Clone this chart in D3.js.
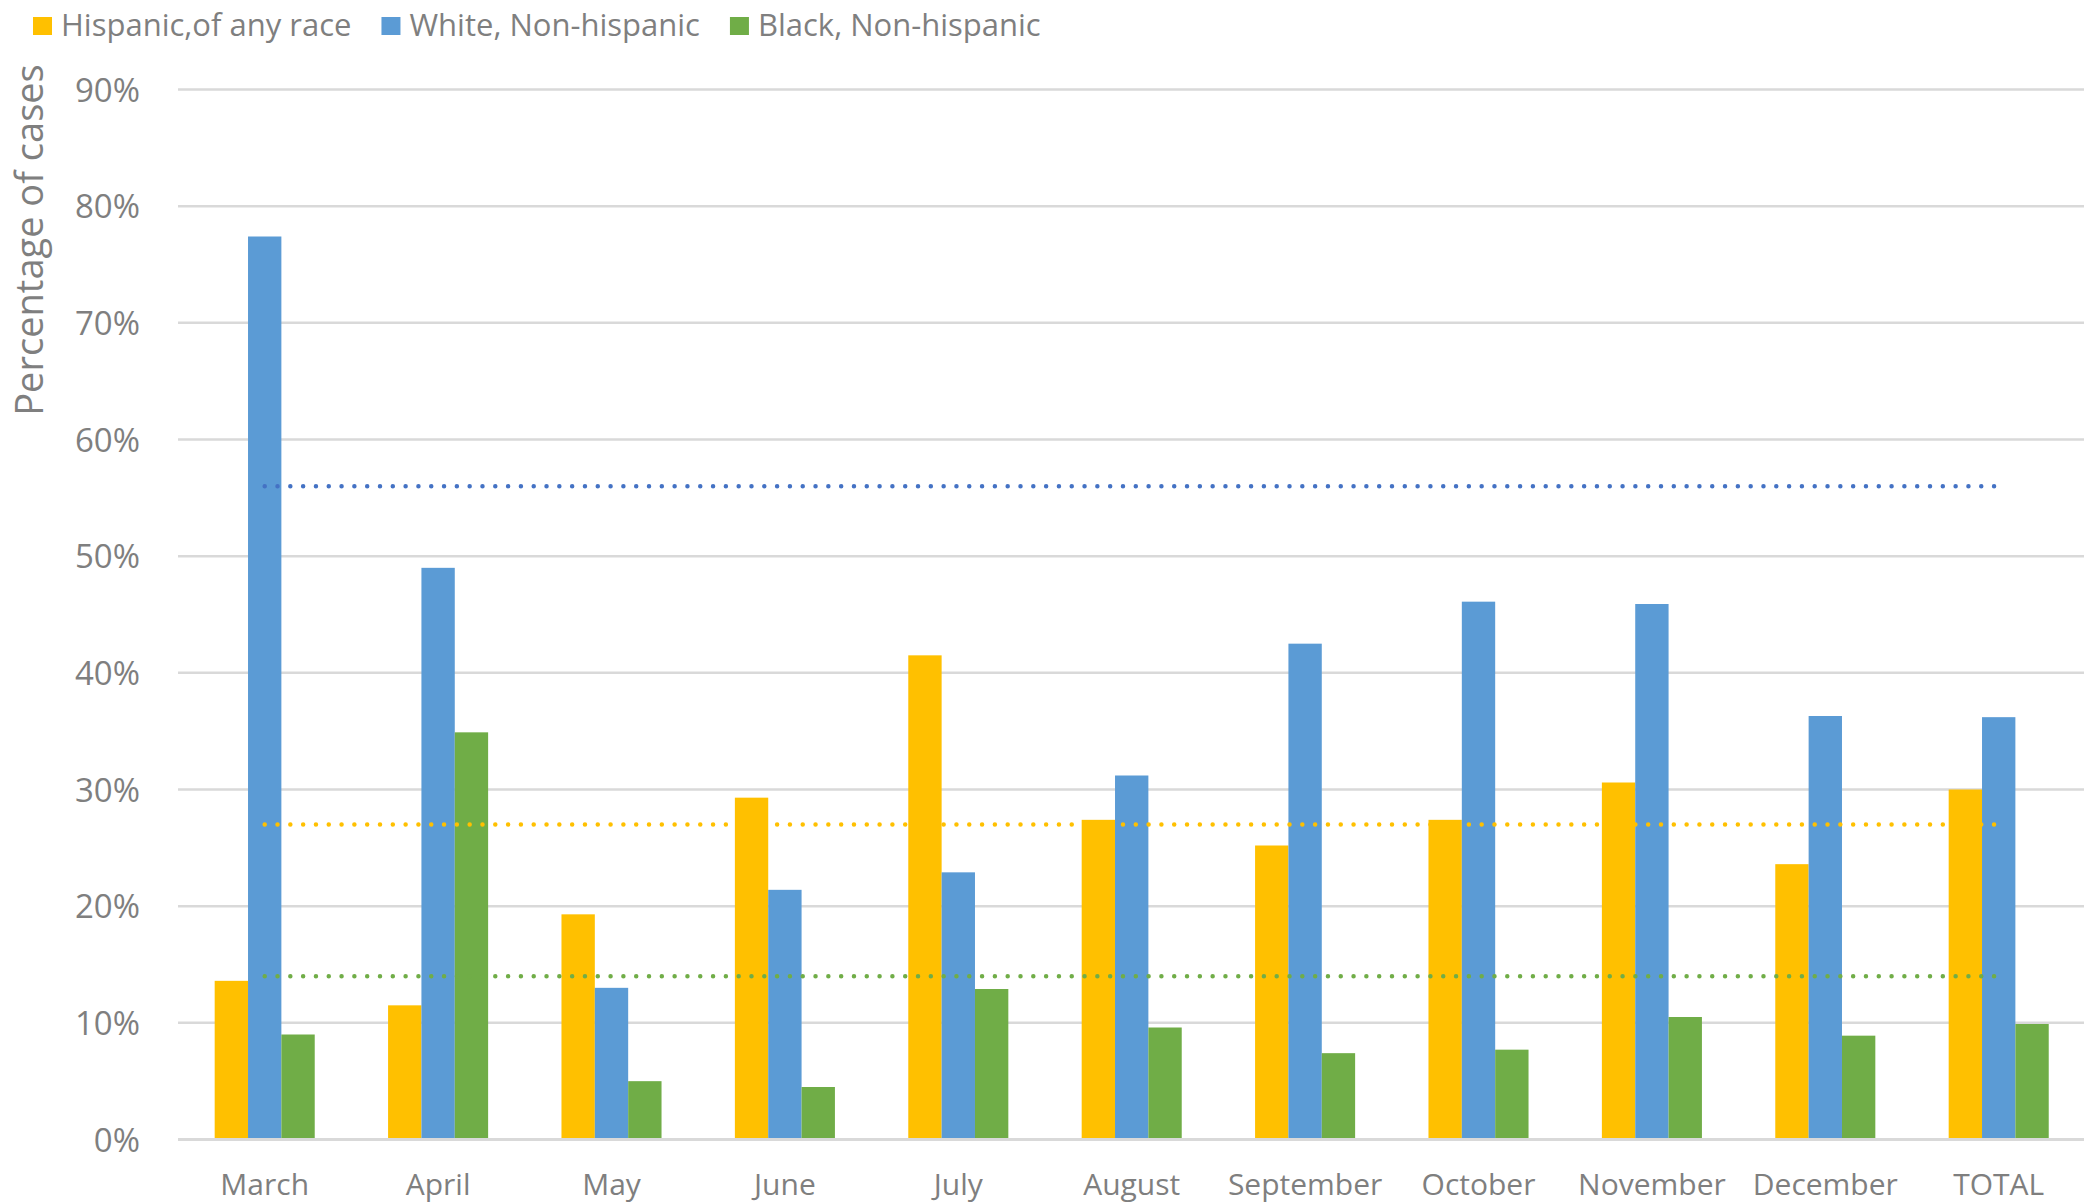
<!DOCTYPE html>
<meta charset="utf-8">
<style>
    body { margin: 0; background: #fff; }
    svg text { font-family: "Open Sans", sans-serif; fill: #7f7f7f; }
</style>
<svg width="2084" height="1202"></svg>
<script src="https://cdn.jsdelivr.net/npm/d3@7"></script>
<script>
    // categories and series
    var months = ["March", "April", "May", "June", "July", "August",
                  "September", "October", "November", "December", "TOTAL"];
    var seriesNames = ["Hispanic,of any race", "White, Non-hispanic", "Black, Non-hispanic"];
    var hispanic = [13.6, 11.5, 19.3, 29.3, 41.5, 27.4, 25.2, 27.4, 30.6, 23.6, 30.0];
    var white    = [77.4, 49.0, 13.0, 21.4, 22.9, 31.2, 42.5, 46.1, 45.9, 36.3, 36.2];
    var black    = [9.0, 34.9, 5.0, 4.5, 12.9, 9.6, 7.4, 7.7, 10.5, 8.9, 9.9];
    var averages = [27, 56, 14];
    var yTicks = [0, 10, 20, 30, 40, 50, 60, 70, 80, 90];

    (function () {
        var barColors = ["#FFC000", "#5B9BD5", "#70AD47"];
        var lineColors = ["#FFC000", "#4472C4", "#70AD47"];
        var values = [hispanic, white, black];

        var svg = d3.select("svg"),
            plotLeft = 178,
            step = 173.4,
            plotTop = 89.5,
            plotBottom = 1139.5;

        var x0 = d3.scaleBand().domain(months)
                .range([plotLeft, plotLeft + step * months.length])
                .paddingInner(0.423).paddingOuter(0.2115),
            x1 = d3.scaleBand().domain(d3.range(seriesNames.length)).range([0, x0.bandwidth()]),
            y = d3.scaleLinear().domain([0, 90]).range([plotBottom, plotTop]);

        // gridlines
        svg.append("g").selectAll("line")
            .data(yTicks.slice(1))
            .join("line")
            .attr("x1", plotLeft).attr("x2", 2084)
            .attr("y1", function (d) { return y(d); })
            .attr("y2", function (d) { return y(d); })
            .attr("stroke", "#d9d9d9")
            .attr("stroke-width", 2.5);

        // y axis labels
        var yAxis = d3.axisLeft(y).tickValues(yTicks)
            .tickFormat(function (d) { return d + "%"; })
            .tickSize(0).tickPadding(0);
        var gy = svg.append("g").attr("transform", "translate(140,0)").call(yAxis);
        gy.select(".domain").remove();
        gy.selectAll("text")
            .style("font-size", "33px")
            .attr("fill", "#7f7f7f")
            .attr("dy", "0.35em");

        // bars
        var groups = svg.append("g").selectAll("g")
            .data(months)
            .join("g")
            .attr("transform", function (d) { return "translate(" + x0(d) + ",0)"; });
        groups.selectAll("rect")
            .data(function (d, i) {
                return values.map(function (s, k) { return { k: k, v: s[i] }; });
            })
            .join("rect")
            .attr("x", function (d) { return x1(d.k); })
            .attr("width", x1.bandwidth())
            .attr("y", function (d) { return y(d.v); })
            .attr("height", function (d) { return y(0) - y(d.v); })
            .attr("fill", function (d) { return barColors[d.k]; });

        // x axis
        var xAxis = d3.axisBottom(x0).tickSize(0).tickPadding(0);
        var gx = svg.append("g").attr("transform", "translate(0," + plotBottom + ")").call(xAxis);
        gx.select(".domain").remove();
        gx.selectAll("text")
            .style("font-size", "30px")
            .attr("fill", "#7f7f7f")
            .attr("y", 55)
            .attr("dy", null);
        svg.append("line")
            .attr("x1", plotLeft).attr("x2", 2084)
            .attr("y1", y(0)).attr("y2", y(0))
            .attr("stroke", "#d9d9d9")
            .attr("stroke-width", 3);

        // dotted average lines
        var line = d3.line()
            .x(function (d) { return x0(d) + x0.bandwidth() / 2; });
        averages.forEach(function (a, k) {
            svg.append("path")
                .attr("d", line.y(y(a))([months[0], months[months.length - 1]]))
                .attr("fill", "none")
                .attr("stroke", lineColors[k])
                .attr("stroke-width", 4.5)
                .attr("stroke-linecap", "round")
                .attr("stroke-dasharray", "0.01 12.8");
        });

        // y title
        svg.append("text")
            .attr("transform", "translate(43,240) rotate(-90)")
            .attr("text-anchor", "middle")
            .style("font-size", "38px")
            .text("Percentage of cases");

        // legend
        var lx = 33;
        seriesNames.forEach(function (name, k) {
            svg.append("rect")
                .attr("x", lx).attr("y", 17)
                .attr("width", 19).attr("height", 18)
                .attr("fill", barColors[k]);
            var t = svg.append("text")
                .attr("x", lx + 28).attr("y", 25)
                .attr("dy", "0.35em")
                .style("font-size", "31px")
                .text(name);
            lx += 28 + t.node().getComputedTextLength() + 30;
        });
    })();
</script>
